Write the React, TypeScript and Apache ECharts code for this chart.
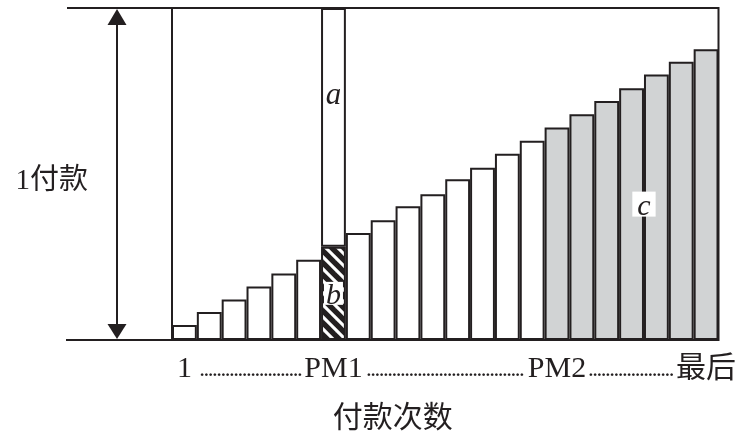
import React, { useEffect, useRef } from "react";
import * as echarts from "echarts";

// Payment numbers (x categories)
const paymentNumbers = [
  "1", "2", "3", "4", "5", "6", "7", "8", "9", "10", "11",
  "12", "13", "14", "15", "16", "17", "18", "19", "20", "21", "22",
];
// Tick labels shown under selected payments
const tickLabels = [
  "1", "", "", "", "", "", "PM1", "", "", "", "",
  "", "", "", "", "PM2", "", "", "", "", "", "最后",
];
// Principal portion of each payment (share of one payment)
const principalShare = [
  0.045, 0.084, 0.122, 0.161, 0.2, 0.242, 0.281, 0.322, 0.361, 0.403, 0.439,
  0.484, 0.519, 0.561, 0.6, 0.64, 0.68, 0.72, 0.758, 0.8, 0.838, 0.876,
];
const ONE_PAYMENT = 1;
const PM1_INDEX = 6;
const PM2_INDEX = 15;
const C_LABEL_INDEX = 18;
const paymentAxisLabel = "1付款";
const xAxisTitle = "付款次数";

const INK = "#231f20";
const GRAY = "#d1d3d4";
const SERIF = '"Liberation Serif", "Noto Sans CJK SC", serif';
const HATCH = 12;

function makeHatch(): HTMLCanvasElement {
  const size = HATCH;
  const c = document.createElement("canvas");
  c.width = size;
  c.height = size;
  const ctx = c.getContext("2d")!;
  ctx.fillStyle = "#ffffff";
  ctx.fillRect(0, 0, size, size);
  ctx.strokeStyle = INK;
  ctx.lineWidth = 5.4;
  for (let k = -1; k <= 1; k++) {
    ctx.beginPath();
    ctx.moveTo(k * size - 4, -4);
    ctx.lineTo(k * size + size + 4, size + 4);
    ctx.stroke();
  }
  return c;
}

export default function App() {
  const ref = useRef<HTMLDivElement>(null);

  useEffect(() => {
    if (!ref.current) return;
    document.body.style.margin = "0";
    const chart = echarts.init(ref.current, undefined, { renderer: "svg" });
    const hatch = makeHatch();

    const principalData = principalShare.map((v, i) => {
      let color: any = "#ffffff";
      if (i === PM1_INDEX)
        color = {
          image: hatch,
          repeat: "repeat",
          imageWidth: HATCH,
          imageHeight: HATCH,
        };
      else if (i >= PM2_INDEX) color = GRAY;
      const item: any = { value: v, itemStyle: { color } };
      if (i === PM1_INDEX) {
        item.label = {
          show: true,
          formatter: "b",
          position: "inside",
          fontFamily: SERIF,
          fontStyle: "italic",
          fontSize: 30,
          lineHeight: 21,
          color: INK,
          backgroundColor: "#ffffff",
          padding: [1, 2, 1, 2],
        };
      }
      if (i === C_LABEL_INDEX) {
        item.label = {
          show: true,
          formatter: "c",
          position: ["100%", "46%"],
          align: "center",
          verticalAlign: "middle",
          fontFamily: SERIF,
          fontStyle: "italic",
          fontSize: 30,
          lineHeight: 18,
          color: INK,
          backgroundColor: "#ffffff",
          padding: [3, 5, 4, 5],
        };
      }
      return item;
    });

    const interestData = principalShare.map((v, i) =>
      i === PM1_INDEX ? ONE_PAYMENT - v : null
    );

    chart.setOption({
      animation: false,
      grid: {
        left: 172,
        right: 17,
        top: 8,
        bottom: 93,
        show: true,
        borderColor: INK,
        borderWidth: 2,
        backgroundColor: "transparent",
      },
      xAxis: {
        type: "category",
        data: paymentNumbers,
        axisLine: { show: false },
        axisTick: { show: false },
        axisLabel: {
          interval: 0,
          margin: 11,
          fontFamily: SERIF,
          fontSize: 30,
          color: INK,
          formatter: (_v: string, i: number) => tickLabels[i],
        },
        name: xAxisTitle,
        nameLocation: "middle",
        nameGap: 61,
        nameTextStyle: {
          fontFamily: SERIF,
          fontSize: 30,
          color: INK,
          padding: [0, 105, 0, 0],
        },
      },
      yAxis: {
        type: "value",
        min: 0,
        max: ONE_PAYMENT,
        show: false,
      },
      series: [
        {
          type: "bar",
          name: "principal",
          stack: "payment",
          barCategoryGap: "0%",
          data: principalData,
          itemStyle: { borderColor: INK, borderWidth: 2 },
        },
        {
          type: "bar",
          name: "interest",
          stack: "payment",
          barCategoryGap: "0%",
          data: interestData,
          itemStyle: { color: "#ffffff", borderColor: INK, borderWidth: 2 },
          label: {
            show: true,
            formatter: "a",
            position: ["50%", "36%"],
            align: "center",
            verticalAlign: "middle",
            fontFamily: SERIF,
            fontStyle: "italic",
            fontSize: 31,
            color: INK,
          },
        },
      ],
    });

    // Decorations computed from the axes
    const x0 = chart.convertToPixel({ xAxisIndex: 0 }, 0) as number;
    const x1 = chart.convertToPixel({ xAxisIndex: 0 }, 1) as number;
    const band = x1 - x0;
    const gridLeft = x0 - band / 2;
    const xAt = (i: number) => chart.convertToPixel({ xAxisIndex: 0 }, i) as number;
    const yTop = chart.convertToPixel({ yAxisIndex: 0 }, ONE_PAYMENT) as number;
    const yBot = chart.convertToPixel({ yAxisIndex: 0 }, 0) as number;
    const lineStart = gridLeft - 105;
    const arrowX = gridLeft - 55;

    // leader dots between tick labels
    const cv = document.createElement("canvas").getContext("2d")!;
    const labelIdx = tickLabels
      .map((t, i) => (t ? i : -1))
      .filter((i) => i >= 0);
    const dotFont = `bold 17px ${SERIF}`;
    cv.font = dotFont;
    const dotW = cv.measureText(".").width;
    const leaders: any[] = [];
    for (let k = 0; k < labelIdx.length - 1; k++) {
      const a = labelIdx[k];
      const b = labelIdx[k + 1];
      cv.font = `30px ${SERIF}`;
      const wa = cv.measureText(tickLabels[a]).width;
      const wb = cv.measureText(tickLabels[b]).width;
      const start = xAt(a) + wa / 2 + (k === 0 ? 8 : 2);
      const end = xAt(b) - wb / 2 - 2;
      const n = Math.max(1, Math.floor((end - start) / dotW));
      leaders.push({
        type: "text",
        x: (start + end) / 2,
        y: yBot + 30,
        style: {
          text: ".".repeat(n),
          font: dotFont,
          fill: INK,
          align: "center",
          verticalAlign: "middle",
        },
      });
    }

    chart.setOption({
      graphic: [
        {
          type: "line",
          shape: { x1: lineStart, y1: yTop, x2: gridLeft, y2: yTop },
          style: { stroke: INK, lineWidth: 2 },
        },
        {
          type: "line",
          shape: { x1: lineStart - 1, y1: yBot, x2: gridLeft, y2: yBot },
          style: { stroke: INK, lineWidth: 2 },
        },
        {
          type: "line",
          shape: { x1: arrowX, y1: yTop + 14, x2: arrowX, y2: yBot - 14 },
          style: { stroke: INK, lineWidth: 2 },
        },
        {
          type: "polygon",
          shape: {
            points: [
              [arrowX - 9.5, yTop + 17],
              [arrowX + 9.5, yTop + 17],
              [arrowX, yTop + 1],
            ],
          },
          style: { fill: INK },
        },
        {
          type: "polygon",
          shape: {
            points: [
              [arrowX - 9.5, yBot - 16],
              [arrowX + 9.5, yBot - 16],
              [arrowX, yBot - 1],
            ],
          },
          style: { fill: INK },
        },
        {
          type: "text",
          x: gridLeft - 84,
          y: (yTop + yBot) / 2 + 5,
          style: {
            text: paymentAxisLabel,
            font: `29px ${SERIF}`,
            fill: INK,
            align: "right",
            verticalAlign: "middle",
          },
        },
        ...leaders,
      ],
    });

    return () => chart.dispose();
  }, []);

  return (
    <div
      ref={ref}
      style={{ position: "fixed", left: 0, top: 0, width: 739, height: 436 }}
    />
  );
}
